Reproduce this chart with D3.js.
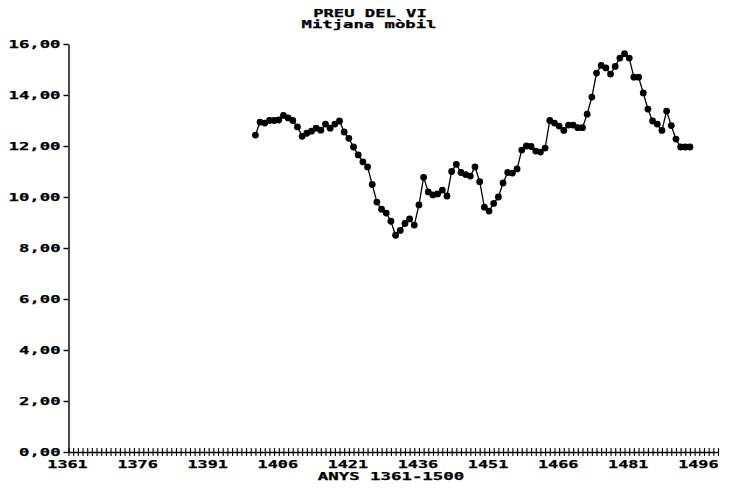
<!DOCTYPE html>
<html>
<head>
<meta charset="utf-8">
<script src="https://cdn.jsdelivr.net/npm/d3@7"></script>
<style>
  html, body { margin: 0; padding: 0; background: #fff; }
  svg { display: block; }
  text { font-family: "DejaVu Sans Mono", monospace; font-weight: bold; fill: #000; stroke: #000; stroke-width: 0.25px; }
</style>
</head>
<body>
<svg id="chart" width="733" height="490"></svg>
<script>
// ---- data ----
const years = d3.range(1401, 1495);
const prices = [
  12.43, 12.94, 12.90, 13.00, 13.00, 13.02, 13.20, 13.10, 13.00, 12.75,
  12.38, 12.50, 12.58, 12.70, 12.62, 12.86, 12.70, 12.86, 12.98, 12.55,
  12.30, 11.96, 11.65, 11.38, 11.18, 10.49, 9.80, 9.52, 9.37, 9.05,
  8.50, 8.69, 8.96, 9.14, 8.90, 9.69, 10.77, 10.20, 10.08, 10.12,
  10.27, 10.04, 11.00, 11.28, 10.96, 10.88, 10.82, 11.18, 10.60, 9.60,
  9.45, 9.75, 10.00, 10.55, 10.96, 10.94, 11.10, 11.84, 12.00, 11.98,
  11.80, 11.76, 11.92, 13.00, 12.90, 12.78, 12.61, 12.82, 12.82, 12.72,
  12.72, 13.25, 13.92, 14.86, 15.16, 15.06, 14.82, 15.12, 15.45, 15.62,
  15.45, 14.70, 14.70, 14.08, 13.45, 12.98, 12.86, 12.61, 13.37, 12.80,
  12.27, 11.96, 11.96, 11.96
];
const yTicks = [0, 2, 4, 6, 8, 10, 12, 14, 16];
const xLabelYears = [1361, 1376, 1391, 1406, 1421, 1436, 1451, 1466, 1481, 1496];
const title = "PREU DEL VI";
const subtitle = "Mitjana mòbil";
const xTitle = "ANYS 1361-1500";

// ---- layout ----
const svg = d3.select("#chart");
const x = d3.scaleLinear().domain([1361, 1500]).range([68.5, 718]);
const y = d3.scaleLinear().domain([0, 16]).range([452, 44]);
const charW = 10.6;
const fmt = v => d3.format(".2f")(v).replace(".", ",");

// titles
svg.append("text").attr("x", 370).attr("y", 17).attr("text-anchor", "middle")
  .attr("font-size", 10).attr("textLength", title.length * charW - 3).attr("lengthAdjust", "spacingAndGlyphs").text(title);
svg.append("text").attr("x", 369).attr("y", 28).attr("text-anchor", "middle")
  .attr("font-size", 10).attr("textLength", subtitle.length * charW - 3).attr("lengthAdjust", "spacingAndGlyphs").text(subtitle);

// y axis
const yAxis = svg.append("g").attr("transform", "translate(" + x(1361) + ",0)")
  .call(d3.axisLeft(y).tickValues(yTicks).tickFormat(fmt).tickSizeInner(5).tickSizeOuter(0).tickPadding(3));
yAxis.select(".domain").attr("stroke", "#000").attr("stroke-width", 1.4);
yAxis.selectAll(".tick line").attr("stroke", "#000").attr("stroke-width", 1.4);
yAxis.selectAll(".tick text").attr("font-size", 10).attr("font-family", "DejaVu Sans Mono")
  .attr("font-weight", "bold").attr("fill", "#000")
  .each(function() { const t = d3.select(this).text(); d3.select(this).attr("textLength", t.length * charW - 1).attr("lengthAdjust", "spacingAndGlyphs"); });

// x axis: one tick per year, crossing the axis line
const xAxis = svg.append("g").attr("transform", "translate(0," + y(0) + ")")
  .call(d3.axisBottom(x).tickValues(d3.range(1361, 1501)).tickFormat("").tickSizeOuter(0));
xAxis.select(".domain").attr("stroke", "#000").attr("stroke-width", 1.4);
xAxis.selectAll(".tick line").attr("stroke", "#000").attr("stroke-width", 1.1).attr("y1", -4).attr("y2", 4);

// x labels
const xLab = svg.append("g").attr("transform", "translate(-1.5," + (y(0) + 4) + ")")
  .call(d3.axisBottom(x).tickValues(xLabelYears).tickFormat(d3.format("d")).tickSize(0).tickPadding(5));
xLab.select(".domain").remove();
xLab.selectAll(".tick text").attr("font-size", 10).attr("font-family", "DejaVu Sans Mono")
  .attr("font-weight", "bold").attr("fill", "#000")
  .attr("textLength", 4 * charW - 2).attr("lengthAdjust", "spacingAndGlyphs");

svg.append("text").attr("x", 391).attr("y", 480).attr("text-anchor", "middle")
  .attr("font-size", 10).attr("textLength", xTitle.length * charW - 2).attr("lengthAdjust", "spacingAndGlyphs").text(xTitle);

// series
const pts = years.map((yr, i) => ({ yr, v: prices[i] }));
svg.append("path").datum(pts)
  .attr("fill", "none").attr("stroke", "#000").attr("stroke-width", 1.3)
  .attr("d", d3.line().x(d => x(d.yr)).y(d => y(d.v)));
svg.append("g").selectAll("circle").data(pts).join("circle")
  .attr("cx", d => x(d.yr)).attr("cy", d => y(d.v)).attr("r", 3.4).attr("fill", "#000");
</script>
</body>
</html>
